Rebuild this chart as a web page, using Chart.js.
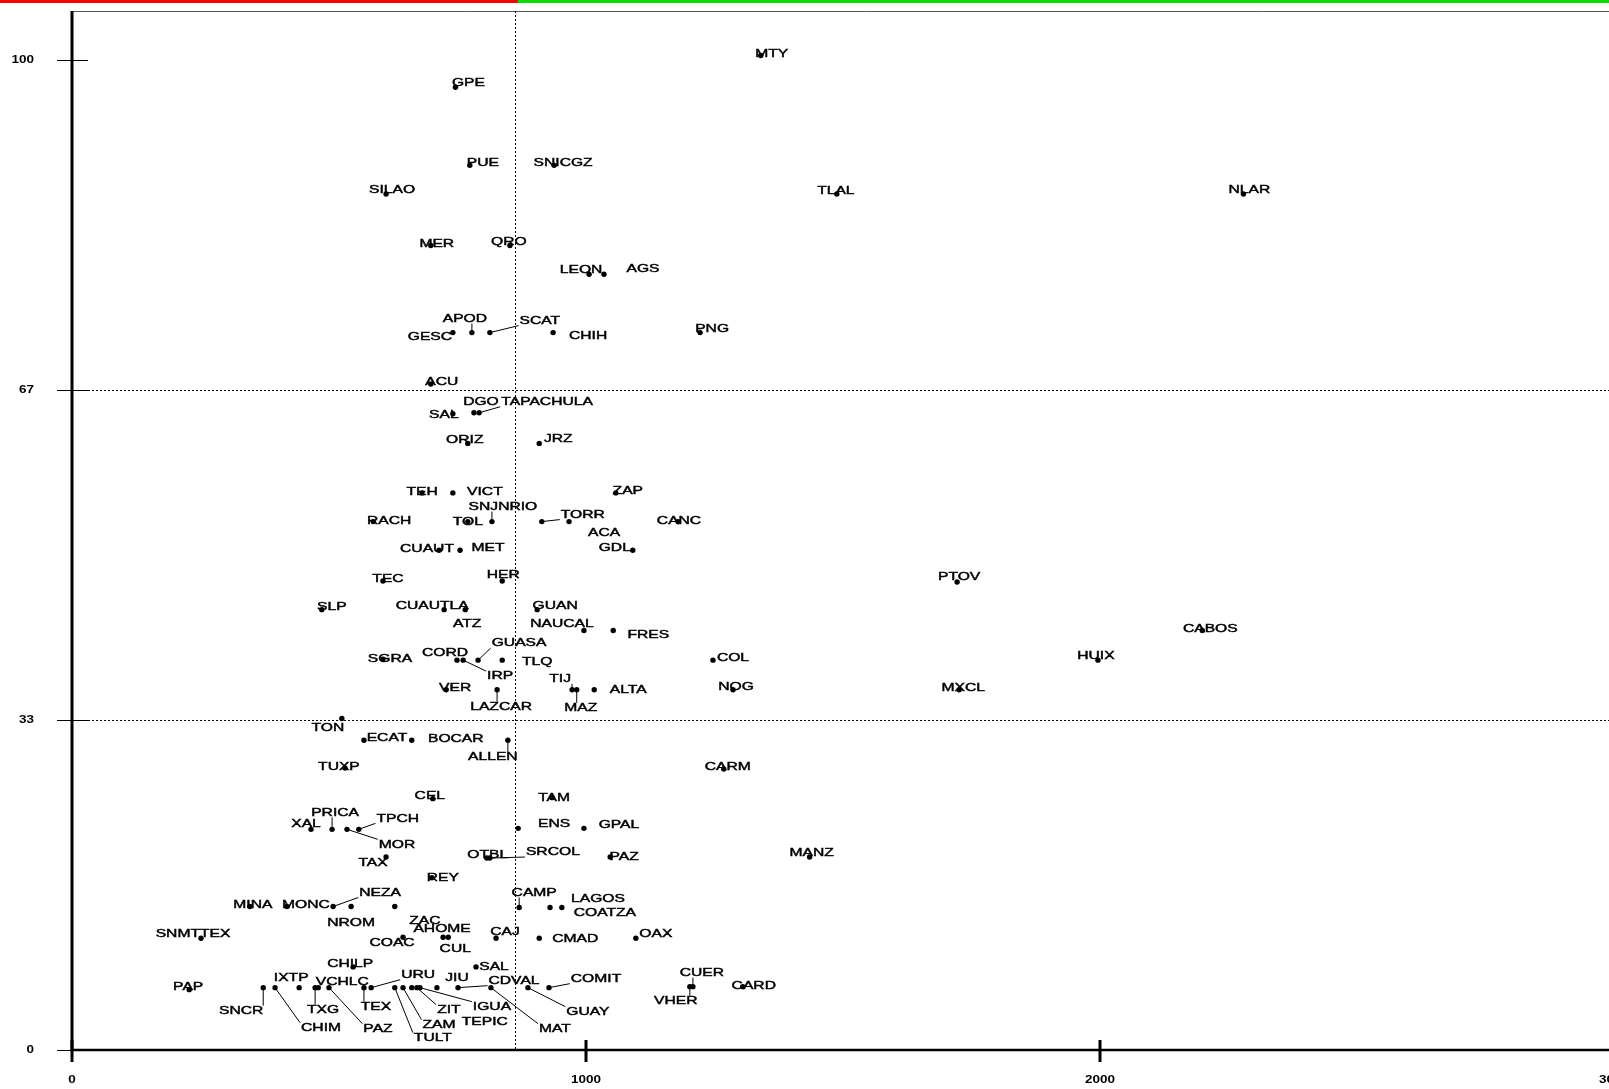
<!DOCTYPE html>
<html>
<head>
<meta charset="utf-8">
<script src="https://cdn.jsdelivr.net/npm/chart.js@4/dist/chart.umd.min.js"></script>
<style>
  html, body { margin: 0; padding: 0; background: #fff; overflow: hidden; }
  #wrap { width: 1660px; height: 1089px; }
</style>
</head>
<body>
<div id="wrap"><canvas id="chart"></canvas></div>
<script>
// cities, x and y values
var names = ['MTY','GPE','PUE','SNICGZ','SILAO','TLAL','NLAR','MER','QRO','LEON','AGS',
  'GESC','APOD','SCAT','CHIH','PNG','ACU','SAL','DGO','TAPACHULA','ORIZ','JRZ',
  'TEH','VICT','SNJNRIO','TOL','RACH','TORR','ACA','CANC','ZAP','GDL','CUAUT','MET',
  'HER','TEC','SLP','CUAUTLA','ATZ','GUAN','NAUCAL','FRES','CORD','IRP','GUASA','TLQ',
  'SGRA','VER','LAZCAR','TIJ','MAZ','ALTA','COL','NOG','PTOV','MXCL','HUIX','CABOS',
  'TON','ECAT','BOCAR','ALLEN','TUXP','CEL','TAM','XAL','PRICA','MOR','TPCH','TAX',
  'ENS','GPAL','OTBL','SRCOL','PAZ','MANZ','CARM','REY','CAMP','LAGOS','COATZA',
  'CAJ','CMAD','OAX','MINA','MONC','NEZA','NROM','ZAC','SNMTTEX','COAC','AHOME','CUL',
  'SAL','CHILP','PAP','SNCR','CHIM','IXTP','TXG','VCHLC','PAZ','TEX','URU','TULT',
  'ZAM','TEPIC','ZIT','IGUA','JIU','CDVAL','MAT','GUAY','COMIT','CUER','VHER','CARD'];

var xVals = [1340,746,774,938,611,1488,2279,698,852,1006,1035,
  741,778,813,936,1222,698,741,782,792,770,909,
  681,741,817,770,586,914,967,1179,1058,1091,714,755,
  837,605,486,724,765,905,996,1053,749,761,790,837,
  605,728,827,973,982,1016,1247,1286,1722,1726,1996,2199,
  525,568,661,848,531,702,934,465,506,535,558,611,
  868,996,807,813,1047,1435,1268,700,870,930,953,
  825,909,1097,346,418,508,543,628,251,644,722,732,
  786,547,228,372,395,442,473,479,500,568,582,628,
  644,661,671,677,710,751,815,887,928,1208,1202,1305];

var yVals = [100.5,97.3,89.4,89.4,86.5,86.5,86.5,81.3,81.3,78.4,78.4,
  72.5,72.5,72.5,72.5,72.5,67.3,64.3,64.4,64.4,61.3,61.3,
  56.3,56.3,53.4,53.4,53.4,53.4,53.4,53.4,56.3,50.5,50.5,50.5,
  47.4,47.4,44.5,44.5,44.5,44.5,42.4,42.4,39.4,39.4,39.4,39.4,
  39.5,36.4,36.4,36.4,36.4,36.4,39.4,36.4,47.3,36.4,39.4,42.4,
  33.5,31.3,31.3,31.3,28.5,25.4,25.5,22.3,22.3,22.3,22.3,19.5,
  22.4,22.4,19.4,19.4,19.5,19.5,28.4,17.4,14.4,14.4,14.4,
  11.3,11.3,11.3,14.5,14.5,14.5,14.5,14.5,11.3,11.4,11.4,11.4,
  8.4,8.4,6.1,6.3,6.3,6.3,6.3,6.3,6.3,6.3,6.3,6.3,
  6.3,6.3,6.3,6.3,6.3,6.3,6.3,6.3,6.3,6.4,6.4,6.4];

var xTicks = [0, 1000, 2000, 3000];
var xTickLabels = ['0', '1000', '2000', '3000'];
var yTicks = [0, 100 / 3, 200 / 3, 100];
var yTickLabels = ['0', '33', '67', '100'];
var xMean = 862;

// label placement: [dx, dy, leader line] in pixels from the point
var labelPlace = [[11,-2,0],[13,-4,0],[13,-3,0],[9,-3,0],[6,-4,0],[-1,-3,0],[6,-4,0],[6,-2,0],[-1,-4,0],[-8,-4,0],[39,-5,0],
  [-23,4,0],[-7,-14,1],[50,-12,1],[35,3,0],[12,-4,0],[11,-2,0],[-9,1,0],[7,-11,0],[68,-11,1],[-3,-4,0],[19,-5,0],
  [0,-1,0],[32,-1,0],[11,-15,1],[0,0,0],[16,-1,0],[41,-7,1],[35,11,0],[1,-1,0],[12,-2,0],[-18,-2,0],[-12,-1,0],[28,-2,0],
  [1,-6,0],[5,-2,0],[10,-3,0],[-12,-4,0],[2,14,0],[18,-4,0],[-22,-7,0],[35,4,0],[-12,-7,0],[37,16,1],[41,-17,1],[35,2,0],
  [7,0,0],[9,-2,0],[4,17,1],[-12,-11,1],[4,18,1],[34,0,0],[20,-2,0],[3,-3,0],[2,-5,0],[4,-2,0],[-2,-4,0],[8,-2,0],
  [-14,9,0],[23,-2,0],[44,-1,0],[-15,17,1],[-6,-1,0],[-3,-3,0],[2,0,0],[-5,-6,0],[3,-17,1],[50,15,1],[39,-11,1],[-13,6,0],
  [36,-5,0],[35,-4,0],[1,-3,0],[63,-6,1],[14,0,0],[2,-4,0],[4,-2,0],[11,0,0],[15,-15,1],[48,-9,0],[43,5,0],
  [9,-6,0],[36,1,0],[20,-4,0],[3,-2,0],[19,-2,0],[47,-14,1],[0,16,0],[30,14,0],[-8,-4,0],[-11,6,0],[-1,-8,0],[7,12,0],
  [18,0,0],[-3,-3,0],[-1,-3,0],[-22,23,1],[46,40,1],[-8,-10,0],[8,22,1],[24,-6,0],[49,41,1],[12,19,1],[47,-13,1],[38,50,1],
  [36,37,1],[73,34,0],[32,22,1],[72,19,1],[20,-10,0],[56,-7,1],[64,41,1],[60,24,1],[47,-9,1],[9,-14,1],[-14,14,1],[11,-1,0]];

var points = [];
for (var i = 0; i < names.length; i++) {
  points.push({x: xVals[i], y: yVals[i]});
}

var textFont = "11.5px 'Liberation Sans', Arial, sans-serif";
var stretch = 1.36;

function stretchedText(ctx, txt, x, y, align) {
  ctx.save();
  ctx.translate(x, y);
  ctx.scale(stretch, 1);
  ctx.textAlign = align;
  ctx.textBaseline = 'middle';
  ctx.lineWidth = 0.45;
  ctx.strokeText(txt, 0, 0);
  ctx.fillText(txt, 0, 0);
  ctx.restore();
}

var framePlugin = {
  id: 'frame',
  beforeDatasetsDraw: function(chart) {
    var ctx = chart.ctx, a = chart.chartArea;
    var xs = chart.scales.x, ys = chart.scales.y;
    var xm = xs.getPixelForValue(xMean);
    ctx.save();
    // coloured strip on top
    ctx.fillStyle = '#ff0000';
    ctx.fillRect(0, 0, xm + 3, 3);
    ctx.fillStyle = '#00dd00';
    ctx.fillRect(xm + 3, 0, chart.width, 3);
    // top border
    ctx.strokeStyle = '#555';
    ctx.lineWidth = 1;
    ctx.beginPath();
    ctx.moveTo(a.left, a.top + 0.5);
    ctx.lineTo(a.right + 100, a.top + 0.5);
    ctx.stroke();
    // dotted reference lines
    ctx.strokeStyle = '#000';
    ctx.setLineDash([2, 2]);
    ctx.beginPath();
    ctx.moveTo(Math.round(xm) + 0.5, a.top);
    ctx.lineTo(Math.round(xm) + 0.5, a.bottom);
    [yTicks[1], yTicks[2]].forEach(function(v) {
      var py = Math.round(ys.getPixelForValue(v)) + 0.5;
      ctx.moveTo(a.left + 16, py);
      ctx.lineTo(chart.width, py);
    });
    ctx.stroke();
    ctx.setLineDash([]);
    // axes
    ctx.lineWidth = 3;
    ctx.beginPath();
    ctx.moveTo(a.left, a.top);
    ctx.lineTo(a.left, a.bottom + 1);
    ctx.stroke();
    ctx.lineWidth = 2.5;
    ctx.beginPath();
    ctx.moveTo(a.left, a.bottom);
    ctx.lineTo(chart.width, a.bottom);
    ctx.stroke();
    // y ticks
    ctx.lineWidth = 1;
    ctx.fillStyle = '#000';
    ctx.font = "bold 10px 'Liberation Sans', Arial, sans-serif";
    yTicks.forEach(function(v, k) {
      var py = Math.round(ys.getPixelForValue(v)) + 0.5;
      ctx.beginPath();
      ctx.moveTo(a.left - 15, py);
      ctx.lineTo(a.left + 16, py);
      ctx.stroke();
      ctx.save();
      ctx.translate(34, py);
      ctx.scale(1.35, 1);
      ctx.textAlign = 'right';
      ctx.textBaseline = 'middle';
      ctx.fillText(yTickLabels[k], 0, 0);
      ctx.restore();
    });
    // x ticks
    ctx.lineWidth = 3;
    xTicks.forEach(function(v, k) {
      var px = xs.getPixelForValue(v);
      ctx.beginPath();
      ctx.moveTo(px, a.bottom - 10);
      ctx.lineTo(px, a.bottom + 12);
      ctx.stroke();
      ctx.save();
      ctx.translate(px, a.bottom + 30);
      ctx.scale(1.35, 1);
      ctx.textAlign = 'center';
      ctx.textBaseline = 'middle';
      ctx.fillText(xTickLabels[k], 0, 0);
      ctx.restore();
    });
    ctx.restore();
  },
  afterDatasetsDraw: function(chart) {
    var ctx = chart.ctx;
    var meta = chart.getDatasetMeta(0);
    ctx.save();
    ctx.font = textFont;
    ctx.fillStyle = '#000';
    ctx.strokeStyle = '#000';
    meta.data.forEach(function(el, i) {
      var p = labelPlace[i];
      var cx = el.x + p[0], cy = el.y + p[1];
      var w = ctx.measureText(names[i]).width * stretch;
      if (p[2]) {
        var l = cx - w / 2 - 1, r = cx + w / 2 + 1, t = cy - 5, b = cy + 5;
        var ex = Math.min(Math.max(el.x, l), r);
        var ey = Math.min(Math.max(el.y, t), b);
        ctx.lineWidth = 1;
        ctx.beginPath();
        ctx.moveTo(el.x, el.y);
        ctx.lineTo(ex, ey);
        ctx.stroke();
      }
      stretchedText(ctx, names[i], cx, cy, 'center');
    });
    ctx.restore();
  }
};

new Chart(document.getElementById('chart'), {
  type: 'scatter',
  data: {
    datasets: [{
      data: points,
      pointStyle: 'circle',
      pointRadius: 2.7,
      pointBorderWidth: 0,
      backgroundColor: '#000',
      borderColor: '#000'
    }]
  },
  options: {
    responsive: true,
    maintainAspectRatio: false,
    devicePixelRatio: 1,
    animation: false,
    layout: { padding: { left: 72, right: 46, top: 11, bottom: 39 } },
    plugins: { legend: { display: false }, tooltip: { enabled: false } },
    scales: {
      x: { type: 'linear', min: 0, max: 3000, display: false },
      y: { type: 'linear', min: 0, max: 105, display: false }
    }
  },
  plugins: [framePlugin]
});
</script>
</body>
</html>
